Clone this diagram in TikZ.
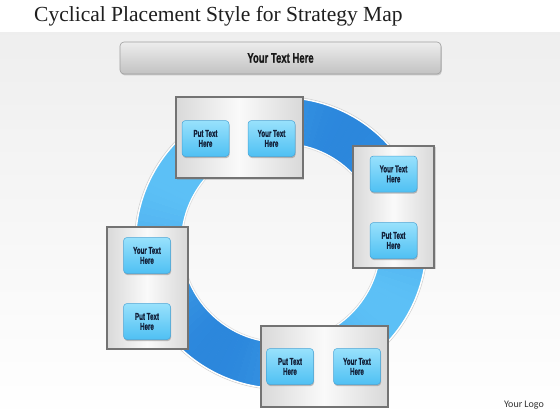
\documentclass[tikz,border=0pt]{standalone}
\usepackage{fontspec}
\setmainfont{Liberation Serif}
\newfontfamily\condfont{Liberation Sans}[BoldFont={Liberation Sans Bold}, BoldFeatures={FakeBold=1.2}]
\newfontfamily\logofont{Carlito}
\usetikzlibrary{shadows}
\definecolor{ringdark}{HTML}{2B86DC}
\definecolor{ringlight}{HTML}{5CC0F6}
\definecolor{btntop}{HTML}{98E1FC}
\definecolor{btnbot}{HTML}{4FC0F3}
\definecolor{btnline}{HTML}{48A4D6}
\definecolor{btntext}{HTML}{13213A}
\definecolor{framedark}{HTML}{737373}
\newcommand\cnd[1]{\scalebox{0.62}[1]{#1}}
\begin{document}
\begin{tikzpicture}[x=1pt,y=-1pt,
  framebox/.style={draw=framedark, line width=2pt, left color=gray!30, right color=gray!30, middle color=gray!4,
    inner sep=0pt, drop shadow={shadow xshift=1.5pt, shadow yshift=-1.5pt, opacity=0.3}},
  hbox/.style={framebox, minimum width=127pt, minimum height=81pt},
  vbox/.style={framebox, minimum width=81pt, minimum height=122pt},
  btn/.style={rounded corners=3.5pt, top color=btntop, bottom color=btnbot, draw=btnline, line width=0.5pt,
    minimum width=47pt, minimum height=36pt, inner sep=0pt, align=center, text=btntext,
    font=\condfont\bfseries\fontsize{10}{10}\selectfont,
    drop shadow={shadow xshift=0.6pt, shadow yshift=-1.6pt, opacity=0.5}},
  banner/.style={rounded corners=4pt, top color=gray!14, bottom color=gray!48, draw=gray!75, line width=0.6pt,
    minimum width=321pt, minimum height=32pt, inner sep=0pt, text=black!90,
    font=\condfont\bfseries\fontsize{14}{14}\selectfont,
    drop shadow={shadow xshift=0.8pt, shadow yshift=-1.4pt, opacity=0.35}}
]
\useasboundingbox (0,0) rectangle (560,420);
\fill[white] (0,0) rectangle (560,420);
\shade[top color=gray!13, bottom color=white] (0,33) rectangle (560,420);

% title
\node[anchor=base west, inner sep=0pt, text=black!88] (title) at (34,22)
  {\fontsize{21.5}{21.5}\selectfont Cyclical Placement Style for Strategy Map};

% banner
\node[banner] (hdr) at (280.5,58) {\scalebox{0.68}[1]{Your Text Here}};

% ring
\coordinate (c) at (281,243);
\foreach \a in {0,3,...,357} {
  \pgfmathtruncatemacro\m{50+50*cos(2*(\a+1.5+58))}
  \fill[ringdark!\m!ringlight, draw=ringdark!\m!ringlight, line width=0.4pt]
    ([shift={(\a:145)}]c) arc[start angle=\a, end angle=\a+3.1, radius=145]
    -- ([shift={(\a+3.1:100)}]c) arc[start angle=\a+3.1, end angle=\a, radius=100] -- cycle;
}
\draw[gray!35, line width=0.6pt] (c) circle[radius=146.6];
\draw[white, line width=1.2pt] (c) circle[radius=145.4];
\draw[white, line width=1.2pt] (c) circle[radius=99.6];
\draw[gray!30, line width=0.5pt] (c) circle[radius=98.6];

% boxes
\node[hbox] (topbox) at (239,137.5) {};
\node[vbox] (rightbox) at (393.5,206.5) {};
\node[vbox] (leftbox) at (147,287.5) {};
\node[hbox] (botbox) at (324,366) {};

% buttons
\node[btn] (t1) at (205.5,138.5) {\cnd{Put Text}\\\cnd{Here}};
\node[btn] (t2) at (271.5,138.5) {\cnd{Your Text}\\\cnd{Here}};
\node[btn] (r1) at (393.5,174) {\cnd{Your Text}\\\cnd{Here}};
\node[btn] (r2) at (393.5,240.5) {\cnd{Put Text}\\\cnd{Here}};
\node[btn] (l1) at (147,255.5) {\cnd{Your Text}\\\cnd{Here}};
\node[btn] (l2) at (147,321.5) {\cnd{Put Text}\\\cnd{Here}};
\node[btn] (b1) at (290,366.5) {\cnd{Put Text}\\\cnd{Here}};
\node[btn] (b2) at (357,366.5) {\cnd{Your Text}\\\cnd{Here}};

% logo
\node[text=black!80, font=\logofont\fontsize{10}{10}\selectfont] (logo) at (524,405) {Your Logo};
\end{tikzpicture}
\end{document}
